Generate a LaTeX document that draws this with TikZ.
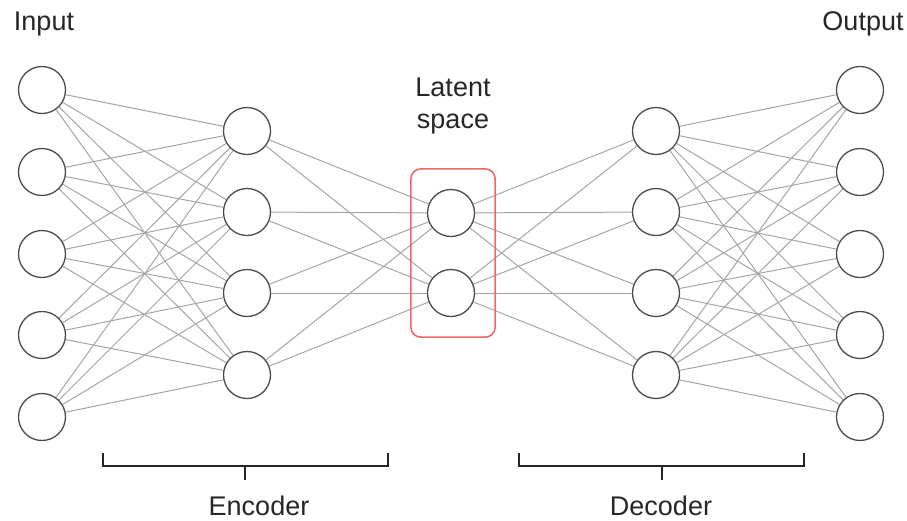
\documentclass[tikz,border=0pt]{standalone}
\usepackage{fontspec}
\setmainfont{Liberation Sans}
\usepackage{tikz}
\usetikzlibrary{positioning,fit,backgrounds}
\definecolor{linkgray}{RGB}{165,165,165}
\definecolor{latentred}{RGB}{238,104,104}
\tikzset{
  neuron/.style={circle,draw=black!70,line width=1.3pt,fill=white,
    minimum size=47pt,inner sep=0pt},
  link/.style={draw=linkgray,line width=1pt},
  brace/.style={line width=2.2pt,black!85},
  lbl/.style={font=\fontsize{27}{32}\selectfont,text=black!85}
}
\begin{document}
\begin{tikzpicture}[x=1pt,y=-1pt]
  \useasboundingbox (0,0) rectangle (907,520);
  % layers
  \foreach \i/\y in {1/90,2/172,3/254,4/335,5/417}{
    \node[neuron] (in-\i)  at (42,\y)  {};
    \node[neuron] (out-\i) at (860,\y) {};
  }
  \foreach \i/\y in {1/131,2/212,3/293,4/375}{
    \node[neuron] (enc-\i) at (247,\y) {};
    \node[neuron] (dec-\i) at (656,\y) {};
  }
  \node[neuron] (lat-1) at (451,213) {};
  \node[neuron] (lat-2) at (451,293) {};
  % connections
  \begin{scope}[on background layer]
    \foreach \i in {1,...,5}
      \foreach \j in {1,...,4}{
        \draw[link] (in-\i) -- (enc-\j);
        \draw[link] (dec-\j) -- (out-\i);
      }
    \foreach \j in {1,...,4}
      \foreach \k in {1,2}{
        \draw[link] (enc-\j) -- (lat-\k);
        \draw[link] (lat-\k) -- (dec-\j);
      }
  \end{scope}
  \node[fit=(lat-1)(lat-2),draw=latentred,line width=1.6pt,rounded corners=10pt,
    inner xsep=18pt,inner ysep=20pt,xshift=2pt] (latbox) {};
  % labels
  \node[lbl,anchor=base] (input)  at (44,30)  {Input};
  \node[lbl,anchor=base] (output) at (863,30) {Output};
  \node[lbl,align=center] (latent) at (453,106) {Latent\\space};
  % brackets
  \draw[brace] (103,453) -- (103,466) -- (388,466) -- (388,453);
  \draw[brace] (245,466) -- (245,480);
  \draw[brace] (519,453) -- (519,466) -- (804,466) -- (804,453);
  \draw[brace] (662,466) -- (662,480);
  \node[lbl,anchor=base] (encoder) at (259,515) {Encoder};
  \node[lbl,anchor=base] (decoder) at (661,515) {Decoder};
\end{tikzpicture}
\end{document}
